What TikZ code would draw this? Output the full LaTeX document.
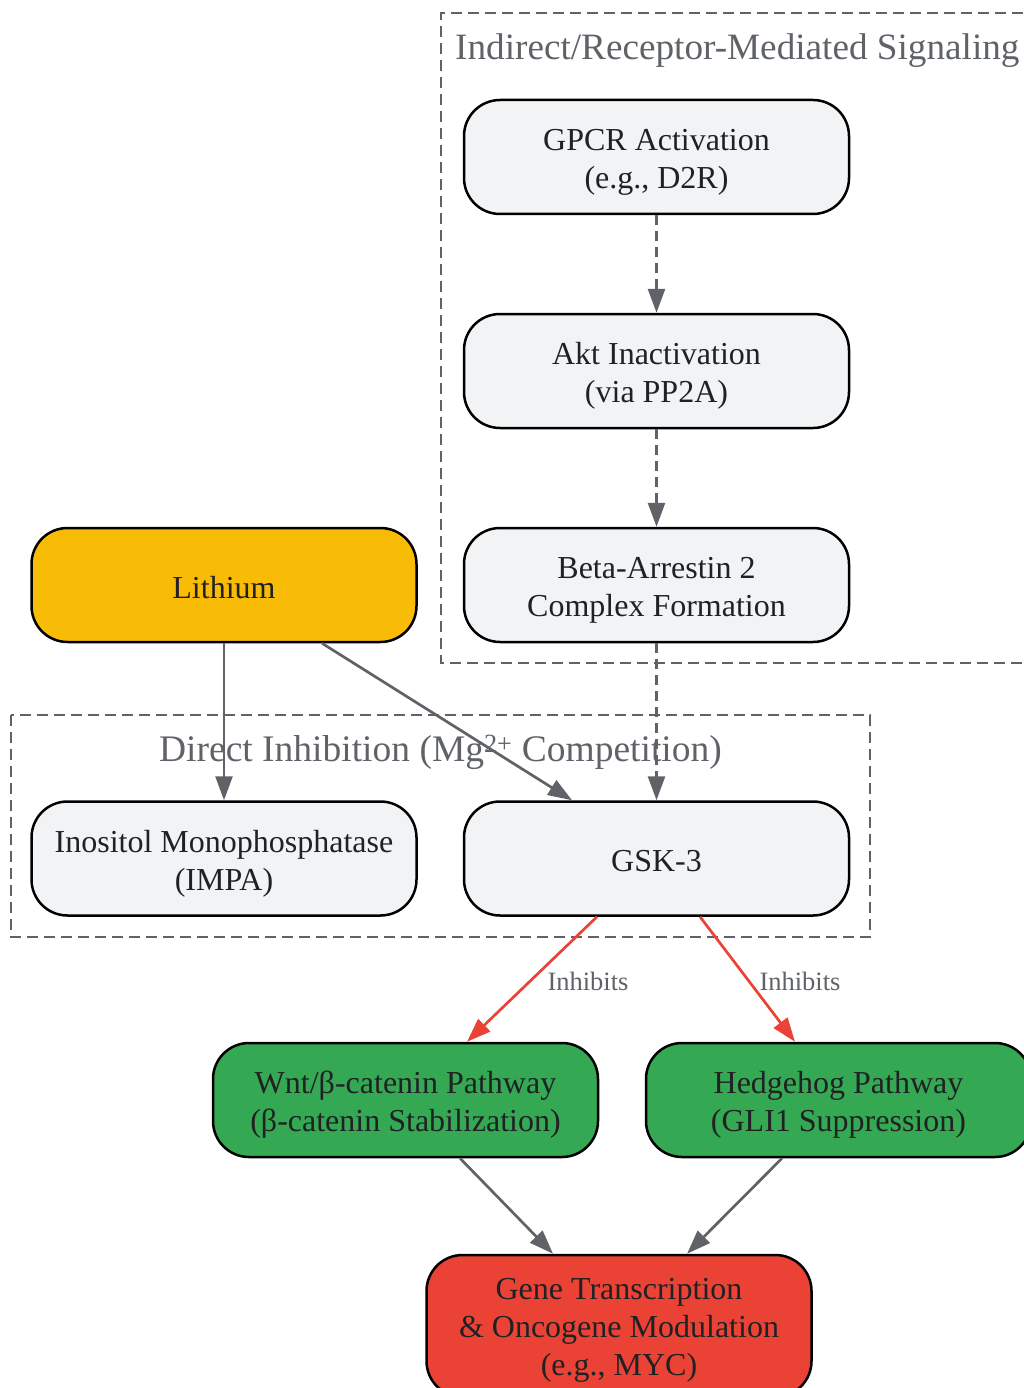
\documentclass[tikz,border=0pt]{standalone}
\usepackage{fontspec}
\setmainfont{Liberation Serif}
\usetikzlibrary{arrows.meta}
\definecolor{edgegray}{HTML}{5F6368}
\definecolor{nodegray}{HTML}{F1F3F4}
\definecolor{txtdark}{HTML}{202124}
\definecolor{gyellow}{HTML}{F9BC06}
\definecolor{ggreen}{HTML}{34A853}
\definecolor{gred}{HTML}{EA4335}
\tikzset{
  box/.style={draw=black, line width=2.5pt, rounded corners=36pt, minimum width=385pt,
    minimum height=114pt, fill=nodegray, align=center, inner sep=0pt, text=txtdark,
    text height=70pt, text depth=7pt, font=\fontsize{32}{38}\selectfont},
  onebox/.style={box, text height=26pt, text depth=0pt},
  threebox/.style={box, text height=106pt, text depth=7pt},
  cluster/.style={draw=edgegray, line width=2.5pt, dash pattern=on 11pt off 6pt},
  ctitle/.style={text=edgegray, font=\fontsize{37.5}{44}\selectfont, inner sep=0pt},
  conn/.style={draw=edgegray, line width=2.7pt, -{Triangle[length=24pt,width=17pt]}},
  dconn/.style={conn, dash pattern=on 10pt off 6pt},
  rconn/.style={draw=gred, line width=2.7pt, -{Triangle[length=24pt,width=17pt]}},
  elabel/.style={text=edgegray, font=\fontsize{26.5}{30}\selectfont, inner sep=0pt}
}
\begin{document}
\begin{tikzpicture}[x=1pt,y=-1pt]
\useasboundingbox (0,0) rectangle (1023,1388);
% clusters
\draw[cluster] (1040,13) -- (441,13) -- (441,663) -- (1040,663);
\node[ctitle, anchor=west, font=\fontsize{37.2}{44}\selectfont] (t1) at (455,51) {Indirect/Receptor-Mediated Signaling};
\draw[cluster] (11,715) rectangle (870,937);
\node[ctitle] (t2) at (440.5,752) {Direct Inhibition (Mg\textsuperscript{2+} Competition)};
% nodes
\node[box] (gpcr) at (656.5,157) {GPCR Activation\\(e.g., D2R)};
\node[box] (akt) at (656.5,371) {Akt Inactivation\\(via PP2A)};
\node[box] (beta) at (656.5,585) {Beta-Arrestin 2\\Complex Formation};
\node[onebox, fill=gyellow] (lith) at (224,585) {Lithium};
\node[box] (impa) at (224,858.5) {Inositol Monophosphatase\\(IMPA)};
\node[onebox] (gsk) at (656.5,858.5) {GSK-3};
\node[box, fill=ggreen] (wnt) at (405.5,1100) {Wnt/β-catenin Pathway\\(β-catenin Stabilization)};
\node[box, fill=ggreen] (hh) at (838.5,1100) {Hedgehog Pathway\\(GLI1 Suppression)};
\node[threebox, fill=gred, minimum height=142pt] (gene) at (619,1326) {Gene Transcription\\\& Oncogene Modulation\\(e.g., MYC)};
% edges
\draw[dconn] (gpcr) -- (akt);
\draw[dconn] (akt) -- (beta);
\draw[dconn] (beta) -- (gsk);
\draw[conn] (lith) -- (impa);
\draw[conn] ([xshift=98pt]lith.south) -- ([xshift=-84.5pt]gsk.north);
\draw[rconn] ([xshift=-59.5pt]gsk.south) -- ([xshift=61.5pt]wnt.north);
\draw[rconn] ([xshift=43.5pt]gsk.south) -- ([xshift=-43.5pt]hh.north);
\node[elabel] (l1) at (588,981) {Inhibits};
\node[elabel] (l2) at (800,981) {Inhibits};
\draw[conn] ([xshift=54.5pt]wnt.south) -- ([xshift=-66pt]gene.north);
\draw[conn] ([xshift=-56.5pt]hh.south) -- ([xshift=68pt]gene.north);
\end{tikzpicture}
\end{document}
